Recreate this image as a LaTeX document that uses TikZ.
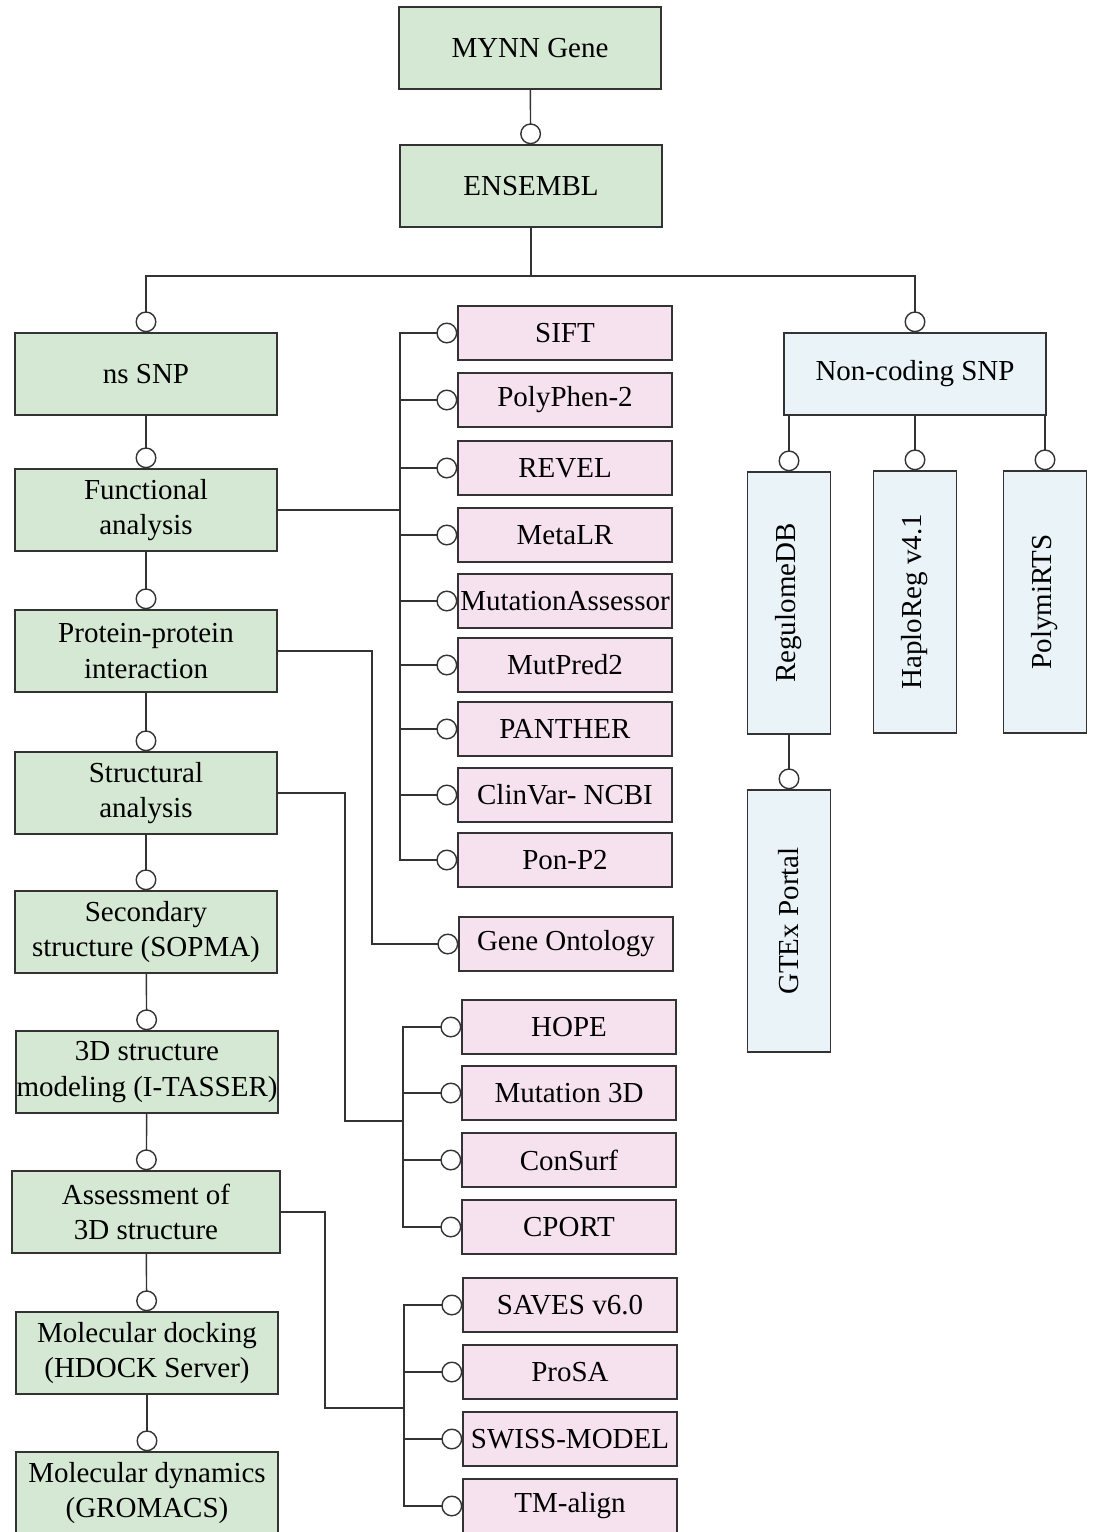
\documentclass[tikz,border=0pt]{standalone}
\usepackage{fontspec}
\setmainfont{Liberation Serif}
\usetikzlibrary{arrows.meta}

\definecolor{boxgreen}{HTML}{D5E8D4}
\definecolor{boxpink}{HTML}{F6E2EE}
\definecolor{boxblue}{HTML}{EAF3F7}

\tikzset{
    box/.style={draw=black!80, line width=0.8pt, align=center, inner sep=0pt,
        font=\fontsize{16.5}{20}\selectfont},
    stagebox/.style={box, fill=boxgreen, minimum width=5.24cm, minimum height=1.64cm},
    toolbox/.style={box, fill=boxpink, minimum width=4.28cm, minimum height=1.08cm},
    snpbox/.style={box, fill=boxblue, minimum width=5.24cm, minimum height=1.64cm},
    dbbox/.style={box, fill=boxblue, rotate=90, minimum width=5.24cm, minimum height=1.66cm},
    wire/.style={draw=black!80, line width=0.8pt},
    link/.style={wire, -{Circle[open, length=0.42cm, line width=0.8pt]}}
}

\begin{document}
\begin{tikzpicture}[x=0.02cm, y=-0.02cm]
\useasboundingbox (0,0) rectangle (1094,1532);

% Top of the tree
\node[stagebox] (mynn) at (530,48) {MYNN Gene};
\node[stagebox] (ensembl) at (531,186) {ENSEMBL};
\node[stagebox] (nssnp) at (146,374) {ns SNP};
\node[snpbox] (noncoding) at (915,374) {Non-coding SNP};

\coordinate (split) at (531,276);
\draw[link] (mynn) -- (ensembl);
\draw[wire] (ensembl) -- (split);
\draw[link] (split) -| (nssnp);
\draw[link] (split) -| (noncoding);

% Left chain of analyses
\node[stagebox] (func) at (146,510) {Functional\\analysis};
\node[stagebox] (ppi) at (146,651) {Protein-protein\\interaction};
\node[stagebox] (struct) at (146,793) {Structural\\analysis};
\node[stagebox] (sopma) at (146,932) {Secondary\\structure (SOPMA)};
\node[stagebox] (itasser) at (147,1072) {3D structure\\modeling (I-TASSER)};
\node[stagebox, minimum width=5.36cm] (assess) at (146,1212) {Assessment of\\3D structure};
\node[stagebox] (dock) at (147,1353) {Molecular docking\\(HDOCK Server)};
\node[stagebox] (md) at (147,1493) {Molecular dynamics\\(GROMACS)};

\foreach \a/\b in {nssnp/func, func/ppi, ppi/struct, struct/sopma,
                   sopma/itasser, itasser/assess, assess/dock, dock/md}
    \draw[link] (\a) -- (\b);

% Functional tools
\node[toolbox] (sift) at (565,333) {SIFT};
\node[toolbox] (polyphen) at (565,400) {PolyPhen-2};
\node[toolbox] (revel) at (565,468) {REVEL};
\node[toolbox] (metalr) at (565,535) {MetaLR};
\node[toolbox] (mutass) at (565,601) {MutationAssessor};
\node[toolbox] (mutpred) at (565,665) {MutPred2};
\node[toolbox] (panther) at (565,729) {PANTHER};
\node[toolbox] (clinvar) at (565,795) {ClinVar- NCBI};
\node[toolbox] (ponp) at (565,860) {Pon-P2};

\coordinate (fbus) at (400,510);
\draw[wire] (func.east) -- (fbus);
\foreach \t in {sift, polyphen, revel, metalr, mutass, mutpred, panther, clinvar, ponp}
    \draw[link] (fbus) |- (\t.west);

% Interaction tool
\node[toolbox] (geneont) at (566,944) {Gene Ontology};
\coordinate (pturn) at (372,651);
\draw[link] (ppi.east) -- (pturn) |- (geneont.west);

% Structural tools
\node[toolbox] (hope) at (569,1027) {HOPE};
\node[toolbox] (mut3d) at (569,1093) {Mutation 3D};
\node[toolbox] (consurf) at (569,1160) {ConSurf};
\node[toolbox] (cport) at (569,1227) {CPORT};

\coordinate (sturn) at (345,793);
\coordinate (sbus) at (403,1121);
\draw[wire] (struct.east) -- (sturn) |- (sbus);
\foreach \t in {hope, mut3d, consurf, cport}
    \draw[link] (sbus) |- (\t.west);

% Assessment tools
\node[toolbox] (saves) at (570,1305) {SAVES v6.0};
\node[toolbox] (prosa) at (570,1372) {ProSA};
\node[toolbox] (swiss) at (570,1439) {SWISS-MODEL};
\node[toolbox] (tmalign) at (570,1506) {TM-align};

\coordinate (aturn) at (325,1212);
\coordinate (abus) at (404,1408);
\draw[wire] (assess.east) -- (aturn) |- (abus);
\foreach \t in {saves, prosa, swiss, tmalign}
    \draw[link] (abus) |- (\t.west);

% Non-coding databases
\node[dbbox] (regulome) at (789,603) {RegulomeDB};
\node[dbbox] (haploreg) at (915,602) {HaploReg v4.1};
\node[dbbox] (polymirts) at (1045,602) {PolymiRTS};
\node[dbbox] (gtex) at (789,921) {GTEx Portal};

\foreach \t in {regulome, haploreg, polymirts}
    \draw[link] (noncoding.south -| \t) -- (\t.east);
\draw[link] (regulome.west) -- (gtex.east);
\end{tikzpicture}
\end{document}
